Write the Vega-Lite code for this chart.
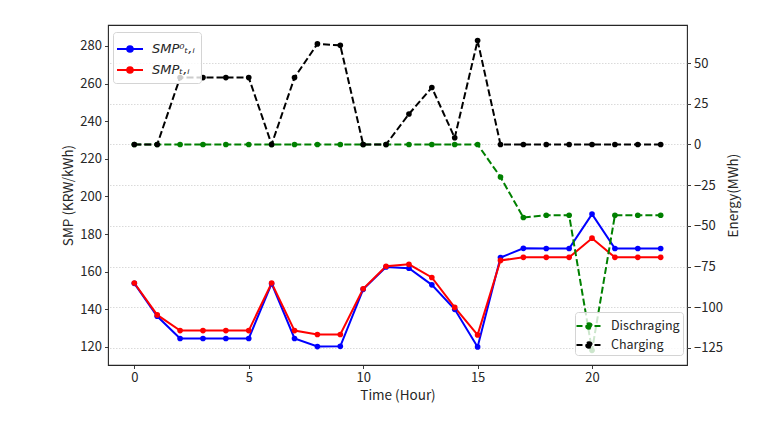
{
  "$schema": "https://vega.github.io/schema/vega-lite/v6.json",
  "width": 579,
  "height": 340,
  "autosize": {"type": "none"},
  "padding": {"left": 108, "top": 25, "right": 90, "bottom": 63},
  "background": "white",
  "config": {
    "font": "Noto Sans CJK KR",
    "view": {"stroke": "#262626", "strokeWidth": 1.1},
    "axis": {
      "domain": false,
      "grid": false,
      "labelFontSize": 13,
      "labelColor": "#262626",
      "titleFontSize": 13.5,
      "titleFontWeight": "normal",
      "titleColor": "#262626",
      "tickColor": "#262626",
      "tickSize": 3.5,
      "tickWidth": 0.9,
      "labelPadding": 3
    }
  },
  "datasets": {
    "smp": [
      {"hour": 0, "series": "SMP⁰ₜ,ᵢ", "price": 153.8},
      {"hour": 1, "series": "SMP⁰ₜ,ᵢ", "price": 136.3},
      {"hour": 2, "series": "SMP⁰ₜ,ᵢ", "price": 124.5},
      {"hour": 3, "series": "SMP⁰ₜ,ᵢ", "price": 124.5},
      {"hour": 4, "series": "SMP⁰ₜ,ᵢ", "price": 124.5},
      {"hour": 5, "series": "SMP⁰ₜ,ᵢ", "price": 124.5},
      {"hour": 6, "series": "SMP⁰ₜ,ᵢ", "price": 153.6},
      {"hour": 7, "series": "SMP⁰ₜ,ᵢ", "price": 124.5},
      {"hour": 8, "series": "SMP⁰ₜ,ᵢ", "price": 120.2},
      {"hour": 9, "series": "SMP⁰ₜ,ᵢ", "price": 120.3},
      {"hour": 10, "series": "SMP⁰ₜ,ᵢ", "price": 150.6},
      {"hour": 11, "series": "SMP⁰ₜ,ᵢ", "price": 162.5},
      {"hour": 12, "series": "SMP⁰ₜ,ᵢ", "price": 161.8},
      {"hour": 13, "series": "SMP⁰ₜ,ᵢ", "price": 153.0},
      {"hour": 14, "series": "SMP⁰ₜ,ᵢ", "price": 140.0},
      {"hour": 15, "series": "SMP⁰ₜ,ᵢ", "price": 120.0},
      {"hour": 16, "series": "SMP⁰ₜ,ᵢ", "price": 167.5},
      {"hour": 17, "series": "SMP⁰ₜ,ᵢ", "price": 172.4},
      {"hour": 18, "series": "SMP⁰ₜ,ᵢ", "price": 172.3},
      {"hour": 19, "series": "SMP⁰ₜ,ᵢ", "price": 172.3},
      {"hour": 20, "series": "SMP⁰ₜ,ᵢ", "price": 190.6},
      {"hour": 21, "series": "SMP⁰ₜ,ᵢ", "price": 172.3},
      {"hour": 22, "series": "SMP⁰ₜ,ᵢ", "price": 172.3},
      {"hour": 23, "series": "SMP⁰ₜ,ᵢ", "price": 172.3},
      {"hour": 0, "series": "SMPₜ,ᵢ", "price": 154.0},
      {"hour": 1, "series": "SMPₜ,ᵢ", "price": 137.0},
      {"hour": 2, "series": "SMPₜ,ᵢ", "price": 128.7},
      {"hour": 3, "series": "SMPₜ,ᵢ", "price": 128.7},
      {"hour": 4, "series": "SMPₜ,ᵢ", "price": 128.7},
      {"hour": 5, "series": "SMPₜ,ᵢ", "price": 128.7},
      {"hour": 6, "series": "SMPₜ,ᵢ", "price": 154.0},
      {"hour": 7, "series": "SMPₜ,ᵢ", "price": 128.7},
      {"hour": 8, "series": "SMPₜ,ᵢ", "price": 126.6},
      {"hour": 9, "series": "SMPₜ,ᵢ", "price": 126.6},
      {"hour": 10, "series": "SMPₜ,ᵢ", "price": 150.9},
      {"hour": 11, "series": "SMPₜ,ᵢ", "price": 162.9},
      {"hour": 12, "series": "SMPₜ,ᵢ", "price": 163.9},
      {"hour": 13, "series": "SMPₜ,ᵢ", "price": 156.9},
      {"hour": 14, "series": "SMPₜ,ᵢ", "price": 141.0},
      {"hour": 15, "series": "SMPₜ,ᵢ", "price": 126.4},
      {"hour": 16, "series": "SMPₜ,ᵢ", "price": 166.0},
      {"hour": 17, "series": "SMPₜ,ᵢ", "price": 167.6},
      {"hour": 18, "series": "SMPₜ,ᵢ", "price": 167.6},
      {"hour": 19, "series": "SMPₜ,ᵢ", "price": 167.6},
      {"hour": 20, "series": "SMPₜ,ᵢ", "price": 177.8},
      {"hour": 21, "series": "SMPₜ,ᵢ", "price": 167.6},
      {"hour": 22, "series": "SMPₜ,ᵢ", "price": 167.6},
      {"hour": 23, "series": "SMPₜ,ᵢ", "price": 167.6}
    ],
    "energy": [
      {"hour": 0, "series": "Dischraging", "mwh": 0},
      {"hour": 1, "series": "Dischraging", "mwh": 0},
      {"hour": 2, "series": "Dischraging", "mwh": 0},
      {"hour": 3, "series": "Dischraging", "mwh": 0},
      {"hour": 4, "series": "Dischraging", "mwh": 0},
      {"hour": 5, "series": "Dischraging", "mwh": 0},
      {"hour": 6, "series": "Dischraging", "mwh": 0},
      {"hour": 7, "series": "Dischraging", "mwh": 0},
      {"hour": 8, "series": "Dischraging", "mwh": 0},
      {"hour": 9, "series": "Dischraging", "mwh": 0},
      {"hour": 10, "series": "Dischraging", "mwh": 0},
      {"hour": 11, "series": "Dischraging", "mwh": 0},
      {"hour": 12, "series": "Dischraging", "mwh": 0},
      {"hour": 13, "series": "Dischraging", "mwh": 0},
      {"hour": 14, "series": "Dischraging", "mwh": 0},
      {"hour": 15, "series": "Dischraging", "mwh": 0},
      {"hour": 16, "series": "Dischraging", "mwh": -20.0},
      {"hour": 17, "series": "Dischraging", "mwh": -44.9},
      {"hour": 18, "series": "Dischraging", "mwh": -43.5},
      {"hour": 19, "series": "Dischraging", "mwh": -43.5},
      {"hour": 20, "series": "Dischraging", "mwh": -126.5},
      {"hour": 21, "series": "Dischraging", "mwh": -43.5},
      {"hour": 22, "series": "Dischraging", "mwh": -43.5},
      {"hour": 23, "series": "Dischraging", "mwh": -43.5},
      {"hour": 0, "series": "Charging", "mwh": 0},
      {"hour": 1, "series": "Charging", "mwh": 0},
      {"hour": 2, "series": "Charging", "mwh": 41.1},
      {"hour": 3, "series": "Charging", "mwh": 41.1},
      {"hour": 4, "series": "Charging", "mwh": 41.1},
      {"hour": 5, "series": "Charging", "mwh": 41.1},
      {"hour": 6, "series": "Charging", "mwh": 0},
      {"hour": 7, "series": "Charging", "mwh": 41.1},
      {"hour": 8, "series": "Charging", "mwh": 61.8},
      {"hour": 9, "series": "Charging", "mwh": 60.9},
      {"hour": 10, "series": "Charging", "mwh": 0},
      {"hour": 11, "series": "Charging", "mwh": 0},
      {"hour": 12, "series": "Charging", "mwh": 18.7},
      {"hour": 13, "series": "Charging", "mwh": 35.0},
      {"hour": 14, "series": "Charging", "mwh": 4.1},
      {"hour": 15, "series": "Charging", "mwh": 63.8},
      {"hour": 16, "series": "Charging", "mwh": 0},
      {"hour": 17, "series": "Charging", "mwh": 0},
      {"hour": 18, "series": "Charging", "mwh": 0},
      {"hour": 19, "series": "Charging", "mwh": 0},
      {"hour": 20, "series": "Charging", "mwh": 0},
      {"hour": 21, "series": "Charging", "mwh": 0},
      {"hour": 22, "series": "Charging", "mwh": 0},
      {"hour": 23, "series": "Charging", "mwh": 0}
    ]
  },
  "layer": [
    {
      "data": {"name": "smp"},
      "mark": {
        "type": "line",
        "strokeWidth": 2,
        "point": {"filled": true, "size": 32}
      },
      "encoding": {
        "x": {
          "field": "hour",
          "type": "quantitative",
          "scale": {"domain": [-1.15, 24.15], "nice": false, "zero": false},
          "axis": {"values": [0, 5, 10, 15, 20], "title": "Time (Hour)", "titlePadding": 4}
        },
        "y": {
          "field": "price",
          "type": "quantitative",
          "scale": {"domain": [110.4, 291.1], "nice": false, "zero": false},
          "axis": {
            "orient": "left",
            "values": [120, 140, 160, 180, 200, 220, 240, 260, 280],
            "title": "SMP (KRW/kWh)",
            "titlePadding": 4
          }
        },
        "color": {
          "field": "series",
          "type": "nominal",
          "sort": ["SMP⁰ₜ,ᵢ", "SMPₜ,ᵢ"],
          "scale": {"domain": ["SMP⁰ₜ,ᵢ", "SMPₜ,ᵢ"], "range": ["#0000ff", "#ff0000"]},
          "legend": {
            "title": null,
            "orient": "none",
            "legendX": 5,
            "legendY": 7,
            "padding": 6,
            "symbolType": "M-1.3,0L1.3,0M-0.28,0A0.28,0.28,0,1,0,0.28,0A0.28,0.28,0,1,0,-0.28,0",
            "symbolSize": 400,
            "symbolStrokeWidth": 2,
            "labelFont": "DejaVu Sans",
            "labelFontStyle": "italic",
            "labelFontSize": 13,
            "labelColor": "#262626",
            "labelOffset": 11,
            "rowPadding": 3,
            "fillColor": "rgba(255,255,255,0.8)",
            "strokeColor": "#d4d4d4",
            "cornerRadius": 3,
            "encode": {
              "symbols": {
                "update": {
                  "fill": {"signal": "datum.value === 'SMP⁰ₜ,ᵢ' ? '#0000ff' : '#ff0000'"},
                  "stroke": {"signal": "datum.value === 'SMP⁰ₜ,ᵢ' ? '#0000ff' : '#ff0000'"}
                }
              }
            }
          }
        }
      }
    },
    {
      "data": {"name": "energy"},
      "mark": {
        "type": "line",
        "strokeWidth": 2,
        "strokeDash": [7, 3],
        "point": {"filled": true, "size": 32}
      },
      "encoding": {
        "x": {
          "field": "hour",
          "type": "quantitative",
          "scale": {"domain": [-1.15, 24.15], "nice": false, "zero": false},
          "axis": {"values": [0, 5, 10, 15, 20], "title": "Time (Hour)", "titlePadding": 4}
        },
        "y": {
          "field": "mwh",
          "type": "quantitative",
          "scale": {"domain": [-135.5, 73.4], "nice": false, "zero": false},
          "axis": {
            "orient": "right",
            "values": [-125, -100, -75, -50, -25, 0, 25, 50],
            "title": "Energy(MWh)",
            "titleAngle": 270,
            "titleBaseline": "top",
            "titlePadding": 4,
            "grid": true,
            "gridColor": "#d0d0d0",
            "gridDash": [1.5, 1.5],
            "gridWidth": 0.8
          }
        },
        "color": {
          "field": "series",
          "type": "nominal",
          "sort": ["Dischraging", "Charging"],
          "scale": {"domain": ["Dischraging", "Charging"], "range": ["#008000", "#000000"]},
          "legend": {
            "title": null,
            "orient": "none",
            "legendX": 467,
            "legendY": 287,
            "padding": 3,
            "symbolType": "M-1.25,0L1.25,0M-0.28,0A0.28,0.28,0,1,0,0.28,0A0.28,0.28,0,1,0,-0.28,0",
            "symbolSize": 400,
            "symbolStrokeWidth": 2,
            "symbolDash": [6, 3],
            "labelFontSize": 12.5,
            "labelColor": "#262626",
            "labelOffset": 11,
            "rowPadding": 1,
            "fillColor": "rgba(255,255,255,0.8)",
            "strokeColor": "#d4d4d4",
            "cornerRadius": 3,
            "encode": {
              "symbols": {
                "update": {
                  "fill": {"signal": "datum.value === 'Dischraging' ? '#008000' : '#000000'"},
                  "stroke": {"signal": "datum.value === 'Dischraging' ? '#008000' : '#000000'"}
                }
              }
            }
          }
        }
      }
    }
  ],
  "resolve": {"scale": {"y": "independent", "color": "independent"}}
}
